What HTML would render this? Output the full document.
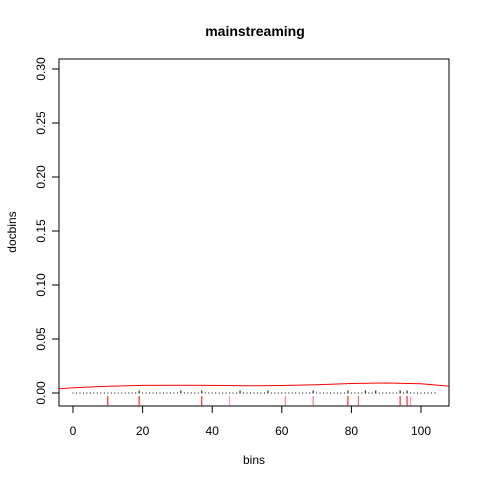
<!DOCTYPE html>
<html><head><meta charset="utf-8"><style>body{margin:0;background:#fff}svg{display:block}</style></head>
<body>
<svg id="c" width="480" height="480" xmlns="http://www.w3.org/2000/svg" font-family="Liberation Sans, sans-serif">
<text x="255" y="36" text-anchor="middle" font-weight="bold" font-size="14">mainstreaming</text>
<rect x="59" y="59" width="390" height="347" fill="none" stroke="#000"/>
<text x="254" y="464" text-anchor="middle" font-size="12">bins</text>
<text transform="translate(16,232) rotate(-90)" text-anchor="middle" font-size="12">docbins</text>
<g id="ax"></g><g id="marks"></g>
</svg>
<script>
const xTicks=[0,20,40,60,80,100];
const yTicks=[0,0.05,0.10,0.15,0.20,0.25,0.30];
const yTickLabels=["0.00","0.05","0.10","0.15","0.20","0.25","0.30"];
const rugPositions=[10,19,37,45,61,69,79,82,94,96,97];
const rugOpacity=[1,1,1,0.4,0.6,0.6,1,0.7,1,1,0.4];
const pointX=Array.from({length:105},(_,i)=>i);
const bumpX=[19,31,37,48,56,69,79,84,87,94,96];
const densX=[-4,0,10,20,30,40,50,60,70,80,90,100,108];
const densY=[0.0040,0.0048,0.0062,0.0070,0.0072,0.0070,0.0067,0.0069,0.0077,0.0088,0.0093,0.0085,0.0064];
const X=v=>73+v*3.48, Y=v=>393-v*1080;
const NS="http://www.w3.org/2000/svg";
function mk(p,t,a){const e=document.createElementNS(NS,t);for(const k in a)e.setAttribute(k,a[k]);p.appendChild(e);return e;}
const ax=document.getElementById('ax'),m=document.getElementById('marks');
xTicks.forEach(t=>{const l=mk(ax,'line',{x1:X(t),x2:X(t),y1:406,y2:413,stroke:'#000'});


const tx=mk(ax,'text',{x:X(t),y:435,'text-anchor':'middle','font-size':12});tx.textContent=t;

});
yTicks.forEach((t,i)=>{const l=mk(ax,'line',{x1:52,x2:59,y1:Y(t),y2:Y(t),stroke:'#000'});


const tx=mk(ax,'text',{transform:`translate(45,${Y(t)}) rotate(-90)`,'text-anchor':'middle','font-size':12});tx.textContent=yTickLabels[i];

});
rugPositions.forEach((v,i)=>{const l=mk(m,'line',{x1:X(v),x2:X(v),y1:396,y2:406,stroke:'red','stroke-opacity':rugOpacity[i]});

});
pointX.forEach(v=>{const r=mk(m,'rect',{x:X(v)-0.5,y:Y(0)-0.5,width:1,height:1,fill:'#000'});

});
bumpX.forEach(v=>{const l=mk(m,'line',{x1:X(v),x2:X(v),y1:Y(0),y2:Y(0)-2.5,stroke:'#000'});

});
let d='';densX.forEach((v,i)=>{d+=(i?'L':'M')+X(v).toFixed(1)+','+Y(densY[i]).toFixed(1);});
const p=mk(m,'path',{d:d,fill:'none',stroke:'red'});


</script>
</body></html>
